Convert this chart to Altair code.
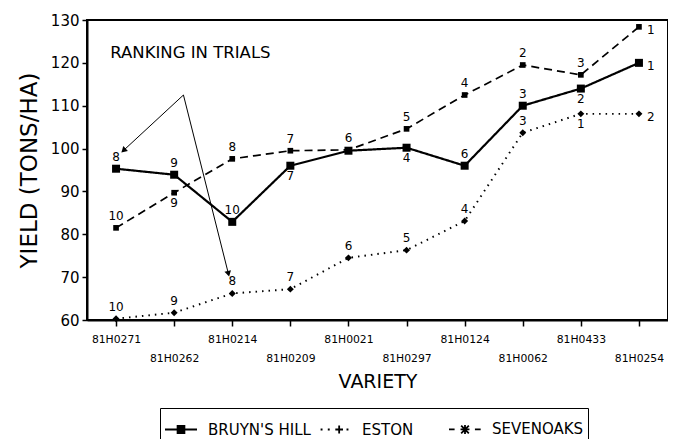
import math
import json
import altair as alt
import pandas as pd

varieties = ["81H0271", "81H0262", "81H0214", "81H0209", "81H0021",
             "81H0297", "81H0124", "81H0062", "81H0433", "81H0254"]
series_names = ["BRUYN'S HILL", "ESTON", "SEVENOAKS"]

bruyns_hill = [95.3, 93.9, 82.9, 96.0, 99.5, 100.2, 96.0, 110.0, 114.0, 120.0]
eston = [60.3, 61.7, 66.2, 67.2, 74.5, 76.3, 83.1, 103.7, 108.1, 108.1]
sevenoaks = [81.5, 89.7, 97.6, 99.5, 99.7, 104.6, 112.5, 119.5, 117.2, 128.4]

bruyns_rank = ["8", "9", "10", "7", "", "4", "6", "3", "2", "1"]
eston_rank = ["10", "9", "8", "7", "6", "5", "4", "3", "1", "2"]
sevenoaks_rank = ["10", "9", "8", "7", "6", "5", "4", "2", "3", "1"]

bruyns_pos = ["above", "above", "above", "below", "above", "below", "above", "above", "below", "right"]
eston_pos = ["above", "above", "above", "above", "above", "above", "above", "above", "below", "right"]
sevenoaks_pos = ["above", "below", "above", "above", "above", "above", "above", "above", "above", "right"]

# annotation
ann_text = "RANKING IN TRIALS"
ann_x, ann_y = 1.28, 122.3
arrow_start = (1.16, 112.5)
arrow_ends = [(0.14, 99.7), (1.93, 71.0)]

W, H = 581, 300
XMIN, XMAX = -0.5, 9.5
YMIN, YMAX = 60, 130

rows = []
for s, vals, rks, poss in [(series_names[0], bruyns_hill, bruyns_rank, bruyns_pos),
                           (series_names[1], eston, eston_rank, eston_pos),
                           (series_names[2], sevenoaks, sevenoaks_rank, sevenoaks_pos)]:
    for i, (v, r, p) in enumerate(zip(vals, rks, poss)):
        rows.append({"variety": varieties[i], "idx": i, "series": s,
                     "value": v, "rank": r, "pos": p})
df = pd.DataFrame(rows)

pxx = W / (XMAX - XMIN)
pxy = H / (YMAX - YMIN)
arr_rows = []
for (ex, ey) in arrow_ends:
    dx = (ex - arrow_start[0]) * pxx
    dy = -(ey - arrow_start[1]) * pxy
    ang = math.degrees(math.atan2(dx, -dy)) % 360
    arr_rows.append({"x": arrow_start[0], "y": arrow_start[1], "x2": ex, "y2": ey, "angle": ang})
arr_df = pd.DataFrame(arr_rows)

FONT = "DejaVu Sans"

xscale = alt.Scale(domain=[XMIN, XMAX], nice=False, zero=False)
yscale = alt.Scale(domain=[YMIN, YMAX], nice=False, zero=False)

label_expr = "%s[round(datum.value)]" % json.dumps(varieties)

x_enc = alt.X("idx:Q", scale=xscale, title="VARIETY",
              axis=alt.Axis(values=list(range(10)), labelExpr=label_expr,
                            grid=False, tickSize=6, tickColor="black", tickWidth=1.5,
                            domainColor="black", domainWidth=2,
                            labelFont=FONT, labelFontSize=10.8, labelColor="black",
                            labelPadding={"condition": {"test": "round(datum.value) % 2 == 1", "value": 26}, "value": 7},
                            labelFlush=False, labelOverlap=False,
                            titleFont=FONT, titleFontSize=19, titleFontWeight="normal",
                            titleColor="black", titlePadding=10))
y_enc = alt.Y("value:Q", scale=yscale, title="YIELD (TONS/HA)",
              axis=alt.Axis(values=list(range(60, 131, 10)), grid=False,
                            tickSize=5, tickColor="black", tickWidth=1.5,
                            domainColor="black", domainWidth=2,
                            labelFont=FONT, labelFontSize=15, labelColor="black",
                            labelPadding=3,
                            titleFont=FONT, titleFontSize=23, titleFontWeight="normal",
                            titleColor="black", titlePadding=9))

base = alt.Chart(df)

lines = base.mark_line(color="black").encode(
    x=x_enc, y=y_enc, detail="series:N",
    strokeDash=alt.StrokeDash("series:N", legend=None,
                              scale=alt.Scale(domain=series_names, range=[[1, 0], [1.5, 5], [8, 5]])),
    strokeWidth=alt.StrokeWidth("series:N", legend=None,
                                scale=alt.Scale(domain=series_names, range=[2.2, 1.7, 1.8])),
)

markers = base.mark_point(filled=True, color="black", opacity=1).encode(
    x="idx:Q", y="value:Q",
    shape=alt.Shape("series:N", legend=None,
                    scale=alt.Scale(domain=series_names, range=["square", "diamond", "square"])),
    size=alt.Size("series:N", legend=None,
                  scale=alt.Scale(domain=series_names, range=[64, 32, 48])),
)

def rank_layer(pos, dx, dy, align, baseline):
    return base.transform_filter(alt.datum.pos == pos).mark_text(
        font=FONT, fontSize=12, color="black", dx=dx, dy=dy, align=align, baseline=baseline
    ).encode(x="idx:Q", y="value:Q", text="rank:N")

ranks = (rank_layer("above", 0, -5, "center", "bottom")
         + rank_layer("below", 0, 5, "center", "top")
         + rank_layer("right", 8, 3, "left", "middle"))

# legend symbols (unit = half symbol width); the square is drawn as stacked strokes
sq = "".join("M-0.27,%.2fH0.27" % yy for yy in [-0.22, -0.11, 0.0, 0.11, 0.22])
leg_paths = [
    "M-1,0H1" + sq,
    "M-0.9,0h0.12M-0.45,0h0.12M0.02,0H0.5M0.26,-0.25V0.25M0.72,0h0.12",
    "M-1,0H-0.65M-0.28,0H0.28M-0.24,-0.24L0.24,0.24M-0.24,0.24L0.24,-0.24M0,-0.28V0.28M0.62,0H0.98",
]
# trailing blank (non-breaking spaces closed by a blank braille cell) widens the ESTON entry
ESTON_PAD = "\u00a0" * 3 + "\u2800"
legend_layer = base.transform_filter("false").mark_point(
    color="black", strokeWidth=1.8, opacity=1, filled=False
).encode(
    shape=alt.Shape("series:N",
                    scale=alt.Scale(domain=series_names, range=leg_paths),
                    legend=alt.Legend(title=None, orient="none", legendX=73, legendY=388,
                                      direction="horizontal", columns=3, columnPadding=6,
                                      symbolSize=1024, symbolStrokeWidth=1.8,
                                      symbolStrokeColor="black", symbolOpacity=1,
                                      labelFont=FONT, labelFontSize=15, labelColor="black",
                                      labelExpr="datum.label == 'ESTON' ? 'ESTON" + ESTON_PAD + "' : datum.label",
                                      labelOffset=10, strokeColor="black", padding=4,
                                      fillColor="white")),
)

ann_label = alt.Chart(pd.DataFrame({"x": [ann_x], "y": [ann_y], "t": [ann_text]})).mark_text(
    font=FONT, fontSize=16.5, color="black", align="center", baseline="middle"
).encode(x="x:Q", y="y:Q", text="t:N")

arrow_lines = alt.Chart(arr_df).mark_rule(color="black", strokeWidth=1).encode(
    x="x:Q", y="y:Q", x2="x2:Q", y2="y2:Q")
arrow_heads = alt.Chart(arr_df).mark_point(shape="triangle", filled=True, color="black",
                                           size=45, opacity=1).encode(
    x="x2:Q", y="y2:Q", angle=alt.Angle("angle:Q", scale=None))

chart = alt.layer(lines, markers, ranks, legend_layer, ann_label, arrow_lines, arrow_heads).resolve_scale(
    shape="independent", size="independent"
).properties(
    width=W, height=H,
    autosize=alt.AutoSizeParams(type="none"),
    padding={"left": 79, "top": 12, "right": 0, "bottom": 119},
).configure_view(stroke="black", strokeWidth=2)

chart.save("out.html", embed_options={"renderer": "svg", "actions": False})
